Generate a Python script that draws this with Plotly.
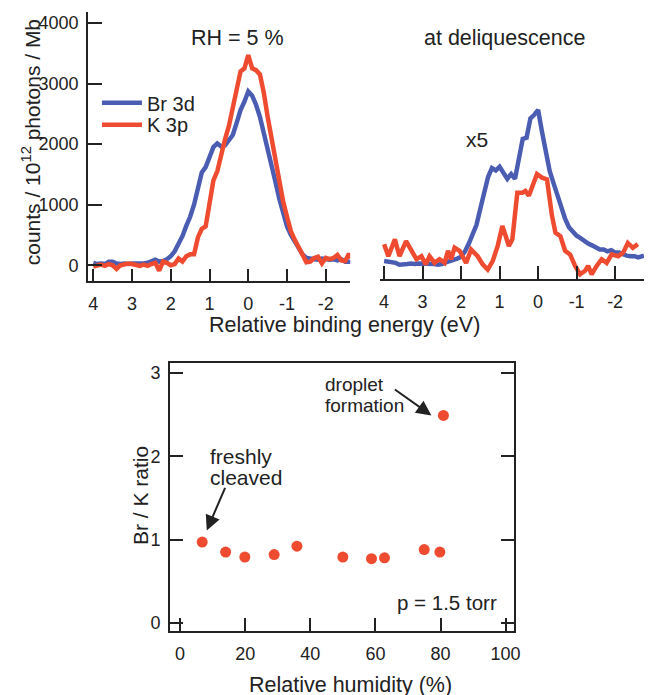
import plotly.graph_objects as go

# ---------------- data ----------------
# Top-left panel: RH = 5 %
e_left = [4.0, 3.9, 3.8, 3.7, 3.6, 3.5, 3.4, 3.3, 3.2, 3.1, 3.0, 2.9, 2.8, 2.7, 2.6, 2.5, 2.4, 2.3, 2.2, 2.1,
          2.0, 1.9, 1.8, 1.7, 1.6, 1.5, 1.4, 1.3, 1.2, 1.1, 1.0, 0.9, 0.8, 0.7, 0.6, 0.5, 0.4, 0.3, 0.2, 0.1,
          0.0, -0.1, -0.2, -0.3, -0.4, -0.5, -0.6, -0.7, -0.8, -0.9, -1.0, -1.1, -1.2, -1.3, -1.4, -1.5,
          -1.6, -1.7, -1.8, -1.9, -2.0, -2.1, -2.2, -2.3, -2.4, -2.5, -2.6, -2.65]
br_left = [40, 20, 30, 20, 60, 60, 30, 20, 30, 20, 30, 30, 20, 30, 40, 60, 90, 60, 70, 100,
           150, 230, 350, 480, 650, 800, 1000, 1250, 1530, 1620, 1780, 1950, 2010, 1960, 1980, 2060, 2150, 2350, 2560, 2700,
           2870, 2800, 2650, 2450, 2200, 1950, 1650, 1380, 1100, 850, 640, 500, 400, 280, 180, 120,
           110, 100, 90, 110, 100, 90, 100, 80, 100, 60, 60, 60]
k_left = [-20, 0, 10, -10, 20, 0, -60, 0, 20, 30, 20, 0, -10, 10, -10, 20, 40, -90, 60, 40,
          0, 20, 110, 60, 150, 180, 180, 460, 600, 640, 1000, 1400, 1550, 1850, 2080, 2300, 2600, 2950, 3200, 3250,
          3470, 3250, 3220, 3150, 2850, 2450, 2080, 1700, 1350, 1050, 800, 560, 420, 290, 170, 50,
          60, 120, 140, 30, 120, 100, 120, 170, 80, 70, 190, 120]

# Top-right panel: at deliquescence (x5)
e_right_br = [4.0, 3.9, 3.8, 3.7, 3.6, 3.5, 3.4, 3.3, 3.2, 3.1, 3.0, 2.9, 2.8, 2.7, 2.6, 2.5, 2.4, 2.3, 2.2, 2.1,
              2.0, 1.9, 1.8, 1.7, 1.6, 1.5, 1.4, 1.3, 1.2, 1.1, 1.0, 0.9, 0.8, 0.7, 0.6, 0.5, 0.4, 0.3, 0.2, 0.1,
              0.0, -0.1, -0.2, -0.3, -0.4, -0.5, -0.6, -0.7, -0.8, -0.9, -1.0, -1.1, -1.2, -1.3, -1.4, -1.5,
              -1.6, -1.7, -1.8, -1.9, -2.0, -2.1, -2.2, -2.3, -2.4, -2.5, -2.6, -2.7, -2.75]
br_right = [60, 50, 30, 30, 0, 0, 10, 20, 10, 20, 20, 10, 20, 10, 0, 10, 40, 60, 70, 100,
            130, 220, 350, 500, 660, 930, 1200, 1450, 1600, 1560, 1620, 1520, 1420, 1500, 1420, 1750, 2080, 2100, 2420, 2480,
            2560, 2200, 1850, 1550, 1350, 1150, 950, 760, 620, 540, 480, 440, 390, 350, 320, 290,
            250, 250, 220, 240, 200, 200, 170, 150, 140, 140, 120, 150, 150]
e_right_k = [4.0, 3.89, 3.72, 3.6, 3.43, 3.29, 3.16, 3.03, 2.92, 2.82, 2.69, 2.56, 2.43, 2.34, 2.26, 2.17, 2.04,
             1.87, 1.74, 1.57, 1.44, 1.31, 1.18, 1.05, 0.93, 0.84, 0.76, 0.67, 0.54, 0.41, 0.33, 0.24, 0.15,
             0.03, -0.1, -0.23, -0.36, -0.45, -0.58, -0.70, -0.83, -0.96, -1.09, -1.22, -1.30, -1.39, -1.52,
             -1.65, -1.78, -1.91, -2.08, -2.21, -2.33, -2.46, -2.59]
k_right = [340, 140, 420, 140, 390, 230, 90, 140, 5, 140, 30, 90, 30, 230, 90, 280, 230,
           30, 250, 140, 5, -80, 60, 310, 640, 470, 310, 420, 1190, 1190, 1220, 1140, 1300,
           1500, 1440, 1410, 810, 530, 470, 230, 170, -20, -160, -100, -20, -160, -20,
           90, 30, 170, 140, 200, 360, 280, 340]

energy_ticks = [4, 3, 2, 1, 0, -1, -2]
energy_ticktext = ["4", "3", "2", "1", "0", "-1", "-2"]
count_ticks = [0, 1000, 2000, 3000, 4000]

# Bottom panel: Br/K ratio vs relative humidity
rh = [6.8, 14.0, 19.9, 28.9, 35.9, 50.0, 58.8, 62.8, 75.0, 79.8, 80.9]
ratio = [0.97, 0.85, 0.79, 0.82, 0.92, 0.79, 0.77, 0.78, 0.88, 0.85, 2.49]
rh_ticks = [0, 20, 40, 60, 80, 100]
ratio_ticks = [0, 1, 2, 3]

# ---------------- styling ----------------
W, H = 650, 695
BLUE = "#4B5DB3"
RED = "#EE4B30"
INK = "#222222"
FONT = "Liberation Sans, Arial, Helvetica, sans-serif"


def px(x):
    return x / W


def py(y):
    return (H - y) / H


fig = go.Figure()
fig.add_trace(go.Scatter(x=e_left, y=br_left, mode="lines", name="Br 3d", legend="legend",
                         line=dict(color=BLUE, width=4.5), xaxis="x", yaxis="y"))
fig.add_trace(go.Scatter(x=e_left, y=k_left, mode="lines", name="K 3p", legend="legend2",
                         line=dict(color=RED, width=4.5), xaxis="x", yaxis="y"))
fig.add_trace(go.Scatter(x=e_right_br, y=br_right, mode="lines", showlegend=False,
                         line=dict(color=BLUE, width=4.5), xaxis="x2", yaxis="y2"))
fig.add_trace(go.Scatter(x=e_right_k, y=k_right, mode="lines", showlegend=False,
                         line=dict(color=RED, width=4.5), xaxis="x2", yaxis="y2"))
fig.add_trace(go.Scatter(x=rh, y=ratio, mode="markers", showlegend=False,
                         marker=dict(color=RED, size=11), xaxis="x3", yaxis="y3"))

axis_common = dict(showgrid=False, zeroline=False, showline=True, linecolor=INK, linewidth=2,
                   ticks="inside", tickwidth=2, tickcolor=INK,
                   tickfont=dict(size=18, color=INK, family=FONT))

legend_common = dict(xanchor="left", yanchor="middle", bgcolor="rgba(0,0,0,0)",
                     font=dict(size=20, color=INK, family=FONT), itemwidth=40)

fig.update_layout(
    width=W, height=H,
    margin=dict(l=0, r=0, t=0, b=0),
    paper_bgcolor="white", plot_bgcolor="rgba(0,0,0,0)",
    font=dict(family=FONT, color=INK, size=20),
    showlegend=True,
    legend=dict(x=px(97), y=py(103), **legend_common),
    legend2=dict(x=px(97), y=py(125), **legend_common),
    xaxis=dict(domain=[px(88), px(353)], range=[4.135, -2.63], anchor="y",
               tickvals=energy_ticks, ticktext=energy_ticktext, ticklen=12,
               ticklabelstandoff=5, **axis_common),
    yaxis=dict(domain=[py(282), py(12)], range=[-263, 4181], anchor="x",
               tickvals=count_ticks, ticklen=14, ticklabelstandoff=4, **axis_common),
    xaxis2=dict(domain=[px(383), 1.0], range=[4.11, -2.75], anchor="y2",
                tickvals=energy_ticks, ticktext=energy_ticktext, ticklen=13,
                ticklabelstandoff=5, **axis_common),
    yaxis2=dict(domain=[py(280), py(12)], range=[-240, 4181], anchor="x2", visible=False),
    xaxis3=dict(domain=[px(171), px(519)], range=[-3.04, 102.7], anchor="y3",
                tickvals=rh_ticks, ticklen=13, mirror=True, ticklabelstandoff=5, **axis_common),
    yaxis3=dict(domain=[py(633), py(364)], range=[-0.10, 3.12], anchor="x3",
                tickvals=ratio_ticks, ticklen=13, mirror="ticks", ticklabelstandoff=4, **axis_common),
)

ann = []


def label(text, x, y, size=21.5, xanchor="center", angle=0):
    ann.append(dict(text=text, x=px(x), y=py(y), xref="paper", yref="paper",
                    xanchor=xanchor, yanchor="middle", showarrow=False, textangle=angle,
                    font=dict(size=size, color=INK, family=FONT)))


label("RH = 5 %", 239, 38)
label("at deliquescence", 509, 38)
label("x5", 481, 140, size=21)
label("Relative binding energy (eV)", 347, 326)
label("counts / 10<sup>12</sup> photons / Mb", 30, 143, size=21, angle=-90)
label("Br / K ratio", 141, 497, size=21, angle=-90)
label("Relative humidity (%)", 353, 687)
label("droplet", 325, 386, size=19, xanchor="left")
label("formation", 325, 407, size=19, xanchor="left")
label("freshly", 209, 458, size=21, xanchor="left")
label("cleaved", 209, 479, size=21, xanchor="left")
label("p = 1.5 torr", 503, 604, size=20.5, xanchor="right")

# arrows (tips in data coordinates of the bottom panel)
ann.append(dict(text="", x=77.2, y=2.49, xref="x3", yref="y3", ax=-38, ay=-27,
                showarrow=True, arrowhead=2, arrowsize=1.5, arrowwidth=2, arrowcolor=INK))
ann.append(dict(text="", x=8.2, y=1.11, xref="x3", yref="y3", ax=19, ay=-44,
                showarrow=True, arrowhead=2, arrowsize=1.5, arrowwidth=2, arrowcolor=INK))

fig.update_layout(annotations=ann)
fig.write_html("out.html", config={"displayModeBar": False},
               post_script="document.body.style.margin='0px';")
